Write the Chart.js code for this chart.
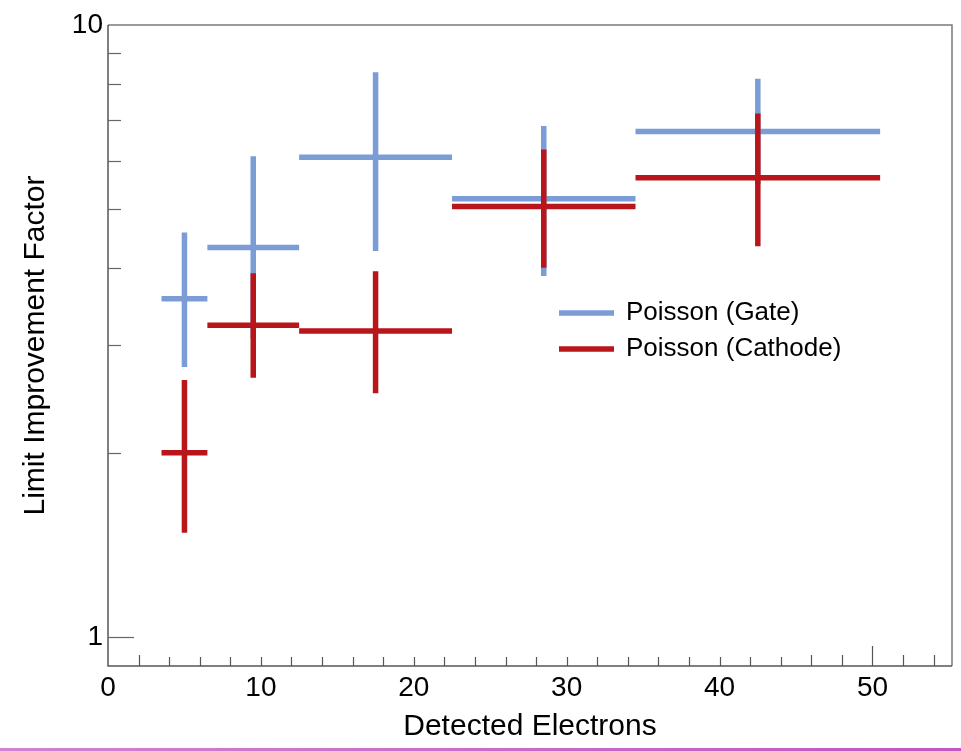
<!DOCTYPE html>
<html><head><meta charset="utf-8">
<script src="https://cdn.jsdelivr.net/npm/chart.js@4"></script>
<style>html,body{margin:0;padding:0;background:#fff;overflow:hidden;} canvas{display:block;}</style>
</head><body>
<canvas id="c" width="961" height="751"></canvas>
<script>
// ---- data ----
const binLow = [3.5, 6.5, 12.5, 22.5, 34.5];
const binHigh = [6.5, 12.5, 22.5, 34.5, 50.5];
const binCenter = [5, 9.5, 17.5, 28.5, 42.5];
const gateValue = [3.57, 4.33, 6.08, 5.20, 6.70];
const gateErrLow = [2.76, 3.07, 4.27, 3.89, 5.49];
const gateErrHigh = [4.58, 6.10, 8.37, 6.84, 8.17];
const cathodeValue = [2.00, 3.23, 3.16, 5.05, 5.63];
const cathodeErrLow = [1.48, 2.65, 2.50, 4.01, 4.35];
const cathodeErrHigh = [2.63, 3.93, 3.96, 6.26, 7.17];
const seriesNames = ['Poisson (Gate)', 'Poisson (Cathode)'];
const xTickLabels = [0, 10, 20, 30, 40, 50];
const yTickLabels = [1, 10];

const FONT = "'Liberation Sans', Arial, Helvetica, sans-serif";
const BLUE = '#7c9cd6';
const RED = '#b8161a';

function crossPoints(vals, lo, hi) {
  const pts = [];
  for (let i = 0; i < vals.length; i++) {
    pts.push({x: binLow[i], y: vals[i]}, {x: binHigh[i], y: vals[i]}, {x: binCenter[i], y: null},
             {x: binCenter[i], y: lo[i]}, {x: binCenter[i], y: hi[i]}, {x: binCenter[i], y: null});
  }
  return pts;
}

const framePlugin = {
  id: 'framePlugin',
  afterDraw(chart) {
    const ctx = chart.ctx;
    const a = chart.chartArea;
    const xs = chart.scales.x, ys = chart.scales.y;
    ctx.save();
    // frame
    ctx.lineWidth = 1.5;
    ctx.strokeStyle = '#7a7a7a';
    ctx.beginPath();
    ctx.moveTo(a.left, a.top); ctx.lineTo(a.right, a.top); ctx.lineTo(a.right, a.bottom);
    ctx.stroke();
    ctx.strokeStyle = '#555';
    ctx.beginPath();
    ctx.moveTo(a.left, a.top); ctx.lineTo(a.left, a.bottom); ctx.lineTo(a.right, a.bottom);
    ctx.stroke();
    // x ticks (inside)
    ctx.strokeStyle = '#555';
    ctx.lineWidth = 1.2;
    for (let v = 2; v <= 54; v += 2) {
      const px = Math.round(xs.getPixelForValue(v)) + 0.5;
      let len = 9;
      if (v === 50) len = 20; else if (v === 2 || v >= 46) len = 11;
      ctx.beginPath(); ctx.moveTo(px, a.bottom); ctx.lineTo(px, a.bottom - len); ctx.stroke();
    }
    // y ticks (inside)
    ctx.strokeStyle = '#666';
    for (let v = 1; v <= 9; v++) {
      const py = Math.round(ys.getPixelForValue(v)) + 0.5;
      const len = v === 1 ? 26 : 13;
      ctx.beginPath(); ctx.moveTo(a.left, py); ctx.lineTo(a.left + len, py); ctx.stroke();
    }
    // legend
    const items = [{label: seriesNames[0], color: BLUE, y: 313}, {label: seriesNames[1], color: RED, y: 349}];
    ctx.font = '26px ' + FONT;
    ctx.textBaseline = 'middle';
    ctx.textAlign = 'left';
    items.forEach(it => {
      ctx.strokeStyle = it.color;
      ctx.lineWidth = 5.5;
      ctx.beginPath(); ctx.moveTo(559, it.y); ctx.lineTo(614, it.y); ctx.stroke();
      ctx.fillStyle = '#000';
      ctx.fillText(it.label, 626, it.y);
    });
    // bottom decoration line
    const g = ctx.createLinearGradient(0, 0, chart.width, 0);
    g.addColorStop(0, '#d083d2');
    g.addColorStop(1, '#c156c0');
    ctx.fillStyle = g;
    ctx.fillRect(0, 748, chart.width, 3);
    ctx.restore();
  }
};

new Chart(document.getElementById('c'), {
  type: 'scatter',
  data: {
    datasets: [
      {label: seriesNames[0], data: crossPoints(gateValue, gateErrLow, gateErrHigh), borderColor: BLUE,
       backgroundColor: BLUE, showLine: true, spanGaps: false, pointRadius: 0, borderWidth: 5.5,
       borderCapStyle: 'butt', order: 2},
      {label: seriesNames[1], data: crossPoints(cathodeValue, cathodeErrLow, cathodeErrHigh), borderColor: RED,
       backgroundColor: RED, showLine: true, spanGaps: false, pointRadius: 0, borderWidth: 5.5,
       borderCapStyle: 'butt', order: 1}
    ]
  },
  options: {
    responsive: false,
    animation: false,
    devicePixelRatio: 1,
    layout: {padding: {top: 25, right: 9, left: 0, bottom: 0}},
    plugins: {legend: {display: false}, tooltip: {enabled: false}},
    scales: {
      x: {
        type: 'linear', min: 0, max: 55.2,
        afterFit(s) { s.height = 85; },
        afterBuildTicks(s) { s.ticks = xTickLabels.map(v => ({value: v})); },
        grid: {display: false, drawTicks: false},
        border: {display: false},
        ticks: {color: '#000', font: {family: FONT, size: 28}, padding: 5, maxRotation: 0, autoSkip: false},
        title: {display: true, text: 'Detected Electrons', color: '#000', font: {family: FONT, size: 30}, padding: {bottom: 6}}
      },
      y: {
        type: 'logarithmic', min: 0.896, max: 10,
        afterFit(s) { s.width = 108; },
        afterBuildTicks(s) { s.ticks = yTickLabels.map(v => ({value: v})); },
        grid: {display: false, drawTicks: false},
        border: {display: false},
        ticks: {color: '#000', font: {family: FONT, size: 28}, padding: 5, callback: v => String(v)},
        title: {display: true, text: 'Limit Improvement Factor', color: '#000', font: {family: FONT, size: 30}, padding: {top: 18}}
      }
    }
  },
  plugins: [framePlugin]
});
</script>
</body></html>
